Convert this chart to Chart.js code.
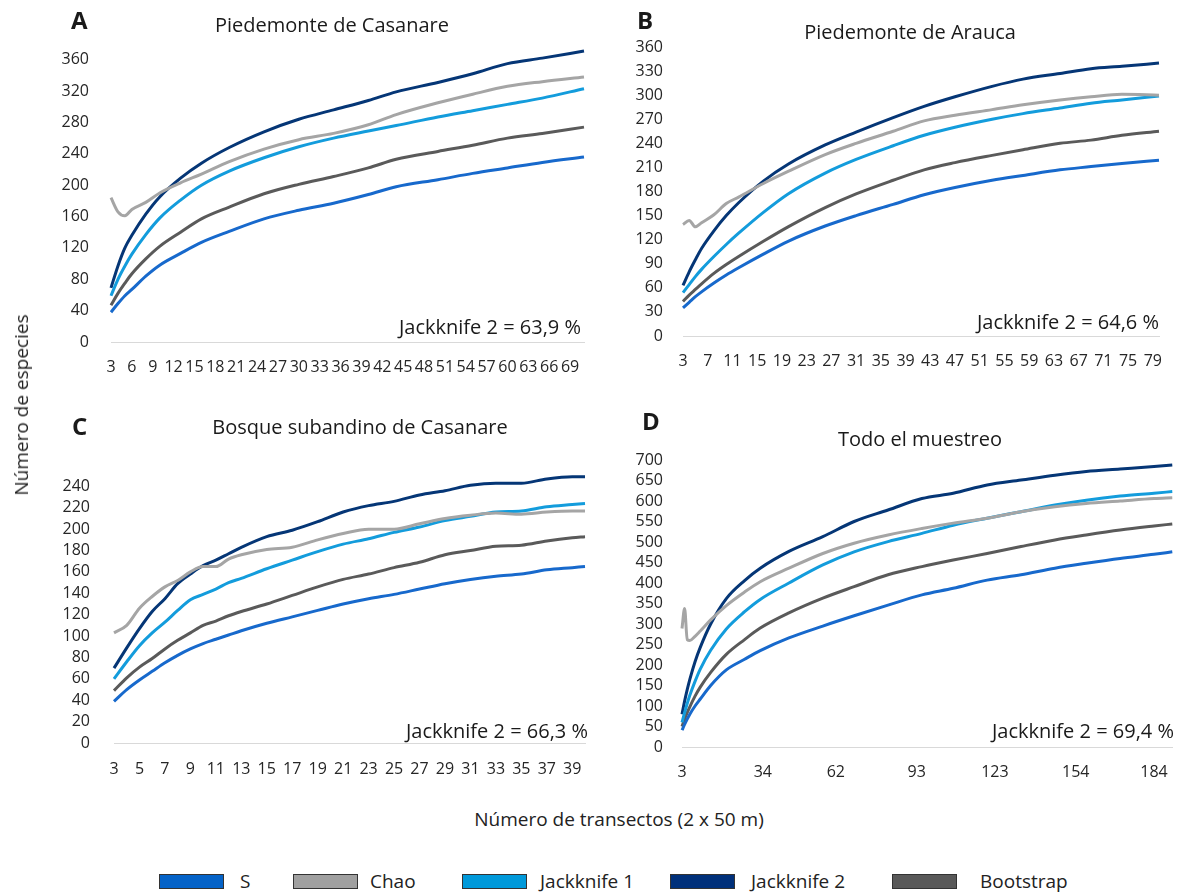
<!DOCTYPE html>
<html>
<head>
<meta charset="utf-8">
<script src="https://cdn.jsdelivr.net/npm/chart.js@4.4.0/dist/chart.umd.min.js"></script>
<style>
    body { margin: 0; background: #fff; width: 1184px; height: 894px; position: relative; overflow: hidden;
           font-family: 'Open Sans', sans-serif; color: #222; }
    canvas { position: absolute; }
    #yTitle { position: absolute; left: 21px; top: 405px; transform: translate(-50%, -50%) rotate(-90deg);
              font-size: 19px; white-space: nowrap; }
    #xTitle { position: absolute; left: 619px; top: 819px; transform: translate(-50%, -50%);
              font-size: 19px; white-space: nowrap; }
    .lg-box { position: absolute; top: 874px; width: 63px; height: 13px; border: 1px solid #333; }
    .lg-text { position: absolute; top: 881px; transform: translateY(-50%); font-size: 19px; white-space: nowrap; }
</style>
</head>
<body>
<canvas id="chartA" width="600" height="395" style="left:0;top:0"></canvas>
<canvas id="chartB" width="584" height="395" style="left:600px;top:0"></canvas>
<canvas id="chartC" width="600" height="405" style="left:0;top:395px"></canvas>
<canvas id="chartD" width="584" height="405" style="left:600px;top:395px"></canvas>
<div id="yTitle">Número de especies</div>
<div id="xTitle">Número de transectos (2 x 50 m)</div>
<div id="legend"></div>

<script>
// series (same order everywhere)
const seriesNames = ['S', 'Chao', 'Jackknife 1', 'Jackknife 2', 'Bootstrap'];
const seriesColors = ['#1769cc', '#a5a5a5', '#139cdc', '#053676', '#5a5a5a'];
const legendColors = ['#0563c8', '#a0a0a0', '#0099da', '#00307a', '#595959'];

// A - Piedemonte de Casanare
const xA = [3, 4, 5, 6, 8, 10, 13, 16, 20, 25, 30, 35, 40, 44, 50, 55, 60, 65, 71];
const sA = [38, 49, 59, 67, 84, 98, 113, 127, 141, 157, 168, 177, 188, 198, 207, 215, 222, 229, 236];
const chaoA = [184, 166, 161, 169, 178, 190, 203, 214, 230, 246, 258, 266, 277, 290, 305, 316, 326, 332, 338];
const jk1A = [59, 80, 97, 112, 137, 158, 181, 200, 218, 235, 249, 260, 269, 276, 287, 295, 303, 311, 323];
const jk2A = [69, 97, 120, 136, 163, 185, 209, 228, 248, 268, 284, 296, 308, 319, 331, 342, 355, 362, 371];
const bootA = [47, 62, 75, 87, 106, 122, 140, 157, 172, 189, 201, 211, 222, 233, 243, 251, 260, 266, 274];
const xTicksA = [3, 6, 9, 12, 15, 18, 21, 24, 27, 30, 33, 36, 39, 42, 45, 48, 51, 54, 57, 60, 63, 66, 69];
const yTicksA = [0, 40, 80, 120, 160, 200, 240, 280, 320, 360];

// B - Piedemonte de Arauca
const xB = [3, 4, 5, 6, 8, 10, 12, 16, 20, 26, 31, 37, 42, 47, 53, 58, 64, 69, 74, 80];
const sB = [35, 42, 49, 55, 66, 76, 85, 102, 118, 137, 150, 164, 176, 185, 194, 200, 207, 211, 215, 219];
const chaoB = [139, 144, 136, 141, 151, 165, 173, 190, 205, 226, 240, 255, 268, 275, 282, 288, 294, 298, 301, 300];
const jk1B = [54, 64, 74, 83, 99, 114, 128, 154, 177, 203, 220, 237, 250, 260, 270, 277, 284, 290, 294, 299];
const jk2B = [63, 80, 95, 109, 131, 150, 166, 193, 214, 238, 254, 272, 286, 298, 311, 320, 327, 333, 336, 340];
const bootB = [43, 51, 58, 65, 78, 89, 99, 118, 136, 160, 177, 194, 207, 216, 225, 232, 240, 244, 250, 255];
const xTicksB = [3, 7, 11, 15, 19, 23, 27, 31, 35, 39, 43, 47, 51, 55, 59, 63, 67, 71, 75, 79];
const yTicksB = [0, 30, 60, 90, 120, 150, 180, 210, 240, 270, 300, 330, 360];

// C - Bosque subandino de Casanare
const xC = [3, 4, 5, 6, 7, 8, 9, 10, 11, 12, 13, 15, 17, 19, 21, 23, 25, 27, 29, 31, 33, 35, 37, 39, 40];
const sC = [39, 50, 59, 67, 75, 82, 88, 93, 97, 101, 105, 112, 118, 124, 130, 135, 139, 144, 149, 153, 156, 158, 162, 164, 165];
const chaoC = [103, 110, 126, 137, 146, 152, 160, 165, 165, 172, 176, 181, 183, 190, 196, 200, 200, 205, 210, 213, 215, 214, 216, 217, 217];
const jk1C = [60, 76, 91, 103, 113, 124, 134, 139, 144, 150, 154, 163, 171, 179, 186, 191, 197, 202, 208, 212, 216, 217, 221, 223, 224];
const jk2C = [70, 89, 107, 123, 135, 149, 158, 166, 171, 177, 183, 193, 199, 207, 216, 222, 226, 232, 236, 241, 243, 243, 247, 249, 249];
const bootC = [49, 61, 71, 79, 88, 96, 103, 110, 114, 119, 123, 130, 138, 146, 153, 158, 164, 169, 176, 180, 184, 185, 189, 192, 193];
const xTicksC = [3, 5, 7, 9, 11, 13, 15, 17, 19, 21, 23, 25, 27, 29, 31, 33, 35, 37, 39];
const yTicksC = [0, 20, 40, 60, 80, 100, 120, 140, 160, 180, 200, 220, 240];

// D - Todo el muestreo
const xD = [3, 4, 5, 6, 8, 10, 14, 20, 27, 33, 44, 57, 69, 82, 95, 107, 120, 133, 146, 158, 171, 184, 191];
const sD = [41, 55, 68, 80, 100, 117, 150, 188, 214, 235, 266, 295, 320, 346, 371, 387, 407, 420, 436, 448, 460, 470, 476];
const chaoD = [289, 338, 262, 260, 270, 283, 310, 345, 378, 403, 436, 472, 497, 517, 533, 546, 558, 574, 586, 594, 600, 606, 608];
const jk1D = [60, 84, 106, 126, 160, 190, 236, 288, 330, 360, 400, 444, 476, 501, 521, 541, 558, 574, 590, 602, 612, 619, 623];
const jk2D = [80, 112, 140, 165, 208, 243, 300, 362, 406, 436, 477, 513, 550, 578, 606, 619, 639, 651, 663, 672, 678, 684, 688];
const bootD = [50, 68, 84, 98, 124, 146, 182, 226, 262, 290, 327, 363, 391, 420, 440, 456, 472, 489, 505, 517, 529, 539, 544];
const xTicksD = [3, 34, 62, 93, 123, 154, 184];
const yTicksD = [0, 50, 100, 150, 200, 250, 300, 350, 400, 450, 500, 550, 600, 650, 700];

const FONT = "'Open Sans', sans-serif";

// letter, title and percentage note drawn on the canvas
const panelText = {
    id: 'panelText',
    afterDraw(chart, args, o) {
        const ctx = chart.ctx;
        ctx.save();
        ctx.fillStyle = '#1a1a1a';
        ctx.textBaseline = 'middle';
        ctx.textAlign = 'left';
        ctx.font = `bold 24px ${FONT}`;
        ctx.fillText(o.letter, o.letterPos[0], o.letterPos[1]);
        ctx.font = `20px ${FONT}`;
        ctx.textAlign = 'center';
        ctx.fillText(o.title, o.titlePos[0], o.titlePos[1]);
        ctx.textAlign = 'right';
        ctx.fillText(o.note, o.notePos[0], o.notePos[1]);
        ctx.restore();
    }
};

function makePanel(id, p) {
    const lists = [p.s, p.chao, p.jk1, p.jk2, p.boot];
    const datasets = lists.map((vals, i) => ({
        label: seriesNames[i],
        data: vals.map((v, k) => ({ x: p.x[k], y: v })),
        borderColor: seriesColors[i],
        borderWidth: 3,
        pointRadius: 0,
        cubicInterpolationMode: 'monotone',
        clip: 4
    }));

    return new Chart(document.getElementById(id), {
        type: 'line',
        data: { datasets },
        plugins: [panelText],
        options: {
            responsive: false,
            animation: false,
            events: [],
            layout: { padding: { left: 0, right: p.padRight, top: p.padTop, bottom: 0 } },
            plugins: {
                legend: { display: false },
                tooltip: { enabled: false },
                panelText: p.text
            },
            scales: {
                x: {
                    type: 'linear',
                    min: p.x[0],
                    max: p.x[p.x.length - 1],
                    grid: { display: false, drawTicks: false },
                    border: { display: true, color: '#d9d9d9', width: 1 },
                    afterBuildTicks: axis => { axis.ticks = p.xTicks.map(v => ({ value: v })); },
                    afterFit: axis => { axis.height = p.xHeight; },
                    ticks: {
                        autoSkip: false, maxRotation: 0, minRotation: 0,
                        padding: p.xPad,
                        color: '#262626',
                        font: { family: FONT, size: 16 },
                        callback: v => v
                    }
                },
                y: {
                    min: 0,
                    max: p.yMax,
                    grid: { display: false, drawTicks: false },
                    border: { display: false },
                    afterBuildTicks: axis => { axis.ticks = p.yTicks.map(v => ({ value: v })); },
                    afterFit: axis => { axis.width = p.yWidth; },
                    ticks: {
                        autoSkip: false,
                        padding: p.yPad,
                        color: '#262626',
                        font: { family: FONT, size: 16 }
                    }
                }
            }
        }
    });
}

makePanel('chartA', {
    x: xA, s: sA, chao: chaoA, jk1: jk1A, jk2: jk2A, boot: bootA,
    xTicks: xTicksA, yTicks: yTicksA, yMax: 380,
    padTop: 44, padRight: 16, xHeight: 53, yWidth: 111, xPad: 16, yPad: 22,
    text: { letter: 'A', letterPos: [71, 22], title: 'Piedemonte de Casanare', titlePos: [332, 26],
            note: 'Jackknife 2 = 63,9 %', notePos: [581, 328] }
});

makePanel('chartB', {
    x: xB, s: sB, chao: chaoB, jk1: jk1B, jk2: jk2B, boot: bootB,
    xTicks: xTicksB, yTicks: yTicksB, yMax: 360,
    padTop: 47, padRight: 25, xHeight: 59, yWidth: 83, xPad: 16, yPad: 20,
    text: { letter: 'B', letterPos: [37, 22], title: 'Piedemonte de Arauca', titlePos: [310, 33],
            note: 'Jackknife 2 = 64,6 %', notePos: [559, 323] }
});

makePanel('chartC', {
    x: xC, s: sC, chao: chaoC, jk1: jk1C, jk2: jk2C, boot: bootC,
    xTicks: xTicksC, yTicks: yTicksC, yMax: 260,
    padTop: 70, padRight: 15, xHeight: 57, yWidth: 114, xPad: 17, yPad: 24,
    text: { letter: 'C', letterPos: [72, 33], title: 'Bosque subandino de Casanare', titlePos: [360, 33],
            note: 'Jackknife 2 = 66,3 %', notePos: [588, 337] }
});

makePanel('chartD', {
    x: xD, s: sD, chao: chaoD, jk1: jk1D, jk2: jk2D, boot: bootD,
    xTicks: xTicksD, yTicks: yTicksD, yMax: 700,
    padTop: 65, padRight: 7, xHeight: 53, yWidth: 82, xPad: 16, yPad: 19,
    text: { letter: 'D', letterPos: [42, 28], title: 'Todo el muestreo', titlePos: [320, 45],
            note: 'Jackknife 2 = 69,4 %', notePos: [574, 337] }
});

// shared legend at the bottom
const legendBoxX = [159, 293, 462, 670, 892];
const legendTextX = [240, 370, 540, 751, 980];
const legend = document.getElementById('legend');
seriesNames.forEach((name, i) => {
    const box = document.createElement('div');
    box.className = 'lg-box';
    box.style.left = legendBoxX[i] + 'px';
    box.style.background = legendColors[i];
    legend.appendChild(box);
    const txt = document.createElement('div');
    txt.className = 'lg-text';
    txt.style.left = legendTextX[i] + 'px';
    txt.textContent = name;
    legend.appendChild(txt);
});
</script>
</body>
</html>
